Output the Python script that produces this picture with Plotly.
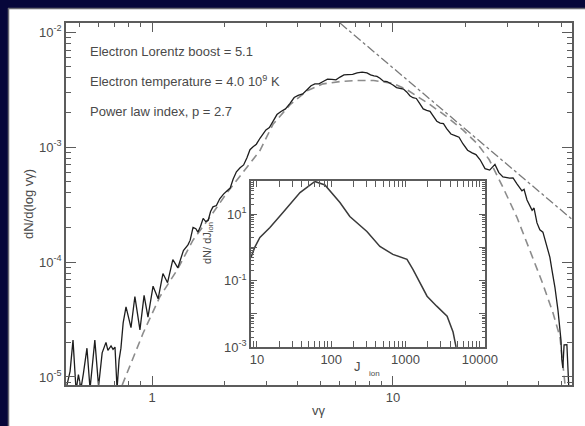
import plotly.graph_objects as go

# ---- main spectrum (solid, noisy) ----
vg = [0.440, 0.457, 0.470, 0.484, 0.495, 0.507, 0.519, 0.537, 0.553, 0.579, 0.600, 0.621,
      0.644, 0.656, 0.676, 0.689, 0.702, 0.716, 0.730, 0.743, 0.759, 0.780, 0.818, 0.849,
      0.891, 0.927, 0.962, 1.01, 1.06, 1.11, 1.16, 1.22, 1.28, 1.35,
      1.41, 1.44, 1.48, 1.52, 1.55, 1.59, 1.63, 1.67, 1.71, 1.75, 1.79, 1.85, 1.91, 1.98,
      2.05, 2.11, 2.17, 2.24, 2.32, 2.40, 2.48, 2.55, 2.62, 2.71, 2.81, 2.89, 2.97, 3.07,
      3.18, 3.30, 3.43, 3.58, 3.74, 3.89, 4.04, 4.22, 4.40, 4.57, 4.74, 4.93, 5.13, 5.35,
      5.58, 5.80, 6.03, 6.26, 6.50, 6.80, 7.10, 7.45, 7.80, 8.07, 8.34, 8.58, 8.83, 9.13,
      9.44, 9.72, 10.0, 10.35, 10.7, 11.05, 11.4, 11.75, 12.1, 12.5, 12.9, 13.35, 13.8,
      14.25, 14.7, 15.2, 15.7, 16.2, 16.7, 17.4, 18.1, 18.8, 19.5, 20.4, 21.3, 22.1, 23.0,
      24.1, 25.2, 26.5, 27.5, 28.6, 30.5, 31.5, 32.7, 34.3, 35.0, 36.0, 37.8, 38.5, 39.6,
      40.7, 41.9, 43.6, 44.8, 45.7, 47.0, 48.4, 49.8, 50.2, 50.7, 51.3, 51.8, 52.7, 53.7]
dn = [7.9e-6, 1.12e-5, 2.09e-5, 7.6e-6, 1.05e-5, 7.9e-6, 1.07e-5, 1.78e-5, 7.9e-6, 2.09e-5, 8.3e-6, 1.62e-5,
      2.0e-5, 1.70e-5, 1.86e-5, 1.74e-5, 1.82e-5, 7.9e-6, 1.41e-5, 1.78e-5, 2.95e-5, 4.07e-5, 2.69e-5, 5.01e-5,
      2.57e-5, 5.13e-5, 3.31e-5, 6.17e-5, 4.79e-5, 7.94e-5, 6.61e-5, 1.05e-4, 8.91e-5, 1.26e-4,
      1.41e-4, 1.55e-4, 2.00e-4, 1.95e-4, 1.82e-4, 2.05e-4, 2.40e-4, 2.25e-4, 2.30e-4, 2.75e-4, 3.02e-4, 3.10e-4, 3.55e-4, 3.90e-4,
      4.17e-4, 4.40e-4, 5.25e-4, 6.10e-4, 6.61e-4, 7.00e-4, 8.13e-4, 9.50e-4, 1.00e-3, 1.06e-3, 1.20e-3, 1.32e-3, 1.41e-3, 1.48e-3,
      1.66e-3, 1.92e-3, 2.04e-3, 2.15e-3, 2.40e-3, 2.70e-3, 2.82e-3, 2.90e-3, 3.16e-3, 3.42e-3, 3.55e-3, 3.55e-3, 3.72e-3, 3.90e-3,
      3.89e-3, 3.85e-3, 4.07e-3, 4.25e-3, 4.27e-3, 4.30e-3, 4.42e-3, 4.50e-3, 4.42e-3, 4.25e-3, 4.17e-3, 4.12e-3, 3.98e-3, 3.75e-3,
      3.72e-3, 3.62e-3, 3.47e-3, 3.30e-3, 3.24e-3, 3.20e-3, 3.02e-3, 2.80e-3, 2.69e-3, 2.65e-3, 2.40e-3, 2.15e-3, 2.09e-3,
      2.05e-3, 1.86e-3, 1.68e-3, 1.62e-3, 1.60e-3, 1.45e-3, 1.30e-3, 1.26e-3, 1.22e-3, 1.07e-3, 9.4e-4, 8.91e-4, 8.6e-4, 7.76e-4,
      6.5e-4, 6.31e-4, 7.08e-4, 6.0e-4, 5.50e-4, 5.37e-4, 5.4e-4, 4.79e-4, 4.17e-4, 4.3e-4, 3.47e-4, 2.82e-4, 2.95e-4, 2.19e-4,
      1.91e-4, 1.82e-4, 1.35e-4, 1.10e-4, 8.51e-5, 6.03e-5, 3.80e-5, 2.09e-5, 1.41e-5, 1.20e-5, 1.9e-5, 1.91e-5, 1.91e-5, 7.9e-6]

# ---- model (dashed) ----
model_vg = [0.752, 0.918, 1.079, 1.271, 1.479, 1.738, 2.042, 2.477, 2.805, 3.177, 3.741, 4.395,
            5.129, 6.026, 7.079, 8.318, 10.0, 11.43, 12.88, 14.26, 16.6, 19.5, 22.4, 25.1, 28.6,
            32.7, 37.0, 41.7, 46.1, 49.3, 51.8]
model_dn = [8.5e-6, 2.40e-5, 5.01e-5, 8.51e-5, 1.55e-4, 2.45e-4, 3.98e-4, 6.76e-4, 9.33e-4, 1.58e-3, 2.34e-3, 3.09e-3,
            3.55e-3, 3.72e-3, 3.80e-3, 3.80e-3, 3.59e-3, 3.16e-3, 2.69e-3, 2.34e-3, 1.86e-3, 1.41e-3, 1.07e-3, 7.76e-4, 4.47e-4,
            2.45e-4, 1.26e-4, 6.61e-5, 3.63e-5, 2.24e-5, 8.5e-6]

# ---- power law (dash-dot) ----
powerlaw_vg = [6.03, 55.5]
powerlaw_dn = [1.2e-2, 2.34e-4]

# ---- inset ----
j_ion = [8.32, 9.33, 10.96, 14.96, 22.4, 38.0, 60.3, 82.2, 131, 178, 302, 452, 676, 1047, 1259,
         1950, 2630, 3630, 4365, 4786]
dn_dj = [0.50, 1.0, 2.0, 3.98, 11.2, 44.7, 97, 75.9, 22.4, 8.51, 3.02, 1.07, 0.617, 0.437, 0.219,
         0.0339, 0.0170, 0.00851, 0.00282, 0.001]

main_xticks = [1, 10]
main_xticktext = ["1", "10"]
main_yticks = [1e-5, 1e-4, 1e-3, 1e-2]
main_yticktext = ["10<sup>-5</sup>", "10<sup>-4</sup>", "10<sup>-3</sup>", "10<sup>-2</sup>"]
inset_xticks = [10, 100, 1000, 10000]
inset_xticktext = ["10", "100", "1000", "10000"]
inset_yticks = [1e-3, 1e-1, 10]
inset_yticktext = ["10<sup>-3</sup>", "10<sup>-1</sup>", "10<sup>1</sup>"]
inset_yticks_unlabelled = [1e-2, 1, 100]

labels = ["Electron Lorentz boost = 5.1",
          "Electron temperature = 4.0 10<sup>9</sup> K",
          "Power law index, p = 2.7"]

W, H = 585, 426
ML, MR, MT, MB = 66, 13, 23, 41
PW, PH = W - ML - MR, H - MT - MB


def px(x):
    return (x - ML) / PW


def py(y):
    return (H - MB - y) / PH


def minor_vals(lo, hi):
    out = []
    d = lo
    while d < hi:
        for m in range(2, 10):
            out.append(m * d)
        d *= 10
    return out


AX = "#5c5c5c"
TXT = "#4a4a4a"
NAVY = "#07073a"
FONT = "Liberation Sans, Arial, sans-serif"

fig = go.Figure()
fig.add_trace(go.Scatter(x=model_vg, y=model_dn, mode="lines",
                         line=dict(color="#8c8c8c", width=1.6, dash="8px,5px"), showlegend=False))
fig.add_trace(go.Scatter(x=powerlaw_vg, y=powerlaw_dn, mode="lines",
                         line=dict(color="#7a7a7a", width=1.3, dash="dashdot"), showlegend=False))
fig.add_trace(go.Scatter(x=vg, y=dn, mode="lines",
                         line=dict(color="#1e1e1e", width=1.3), showlegend=False))
fig.add_trace(go.Scatter(x=j_ion, y=dn_dj, mode="lines", xaxis="x2", yaxis="y2",
                         line=dict(color="#3a3a3a", width=1.5), showlegend=False))
fig.add_trace(go.Scatter(x=j_ion, y=dn_dj, mode="lines", xaxis="x2", yaxis="y3",
                         line=dict(width=0), opacity=0, hoverinfo="skip", showlegend=False))

common = dict(showgrid=False, zeroline=False, showline=True, linecolor=AX, linewidth=1.5,
              mirror="allticks", ticks="inside", tickcolor=AX, tickwidth=1, automargin=False,
              tickfont=dict(size=13, color=TXT, family=FONT))

fig.update_layout(
    width=W, height=H, autosize=False,
    margin=dict(l=ML, r=MR, t=MT, b=MB, autoexpand=False),
    paper_bgcolor="white", plot_bgcolor="white",
    font=dict(family=FONT, color=TXT),
    xaxis=dict(type="log", range=[-0.357, 1.743], tickmode="array", tickvals=main_xticks,
               ticktext=main_xticktext, ticklen=9,
               minor=dict(tickmode="array", tickvals=minor_vals(0.1, 100), ticks="inside",
                          ticklen=4, tickcolor=AX, showgrid=False), **common),
    yaxis=dict(type="log", range=[-5.07, -1.92], tickmode="array", tickvals=main_yticks,
               ticktext=main_yticktext, ticklen=10,
               minor=dict(tickmode="array", tickvals=minor_vals(1e-6, 1e-1), ticks="inside",
                          ticklen=5, tickcolor=AX, showgrid=False), **common),
    xaxis2=dict(type="log", range=[0.92, 4.07], domain=[px(251), px(485)], anchor="y2",
                tickmode="array", tickvals=inset_xticks, ticktext=inset_xticktext, ticklen=6,
                minor=dict(tickmode="array", tickvals=minor_vals(1, 100000), ticks="inside",
                           ticklen=3, tickcolor=AX, showgrid=False), **common),
    yaxis2=dict(type="log", range=[-3, 2], domain=[py(347), py(181)], anchor="x2",
                tickmode="array", tickvals=inset_yticks, ticktext=inset_yticktext, ticklen=6,
                minor=dict(tickmode="array", tickvals=minor_vals(1e-4, 1000), ticks="inside",
                           ticklen=3, tickcolor=AX, showgrid=False), **common),
    yaxis3=dict(type="log", range=[-3, 2], overlaying="y2", anchor="x2", side="left",
                tickmode="array", tickvals=inset_yticks_unlabelled, showticklabels=False,
                ticks="inside", ticklen=6, tickcolor=AX, tickwidth=1, showline=False,
                mirror="allticks", showgrid=False, zeroline=False, automargin=False),
    shapes=[
        dict(type="rect", xref="paper", yref="paper", layer="below",
             x0=px(0), x1=px(W), y0=py(0), y1=py(8), fillcolor=NAVY, line=dict(width=0)),
        dict(type="rect", xref="paper", yref="paper", layer="below",
             x0=px(0), x1=px(8), y0=py(H), y1=py(0), fillcolor=NAVY, line=dict(width=0)),
        dict(type="line", xref="paper", yref="paper", layer="below",
             x0=px(8), x1=px(W), y0=py(8.5), y1=py(8.5), line=dict(color="#6a6a72", width=1.5)),
        dict(type="line", xref="paper", yref="paper", layer="below",
             x0=px(8.5), x1=px(8.5), y0=py(H), y1=py(8), line=dict(color="#6a6a72", width=1.5)),
    ],
)

ann = []
for i, t in enumerate(labels):
    ann.append(dict(text=t, x=px(88), y=py(51 + 30 * i), xref="paper", yref="paper",
                    xanchor="left", yanchor="middle", showarrow=False,
                    font=dict(size=13, color=TXT, family=FONT)))
ann.append(dict(text="dN/d(log vγ)", x=px(28), y=py(204), xref="paper", yref="paper",
                xanchor="center", yanchor="middle",
                textangle=-90, showarrow=False, font=dict(size=13, color=TXT, family=FONT)))
ann.append(dict(text="vγ", x=px(319), y=py(410), xref="paper", yref="paper",
                xanchor="center", yanchor="middle",
                showarrow=False, font=dict(size=13, color=TXT, family=FONT)))
ann.append(dict(text="dN/ dJ<sub>ion</sub>", x=px(208), y=py(243), xref="paper", yref="paper",
                xanchor="center", yanchor="middle",
                textangle=-90, showarrow=False, font=dict(size=11, color=TXT, family=FONT)))
ann.append(dict(text="J", x=px(357), y=py(366), xref="paper", yref="paper",
                xanchor="center", yanchor="middle",
                showarrow=False, font=dict(size=13, color=TXT, family=FONT)))
ann.append(dict(text="ion", x=px(374), y=py(373), xref="paper", yref="paper",
                xanchor="center", yanchor="middle",
                showarrow=False, font=dict(size=8, color=TXT, family=FONT)))
fig.update_layout(annotations=ann)

fig.write_html("out.html")
